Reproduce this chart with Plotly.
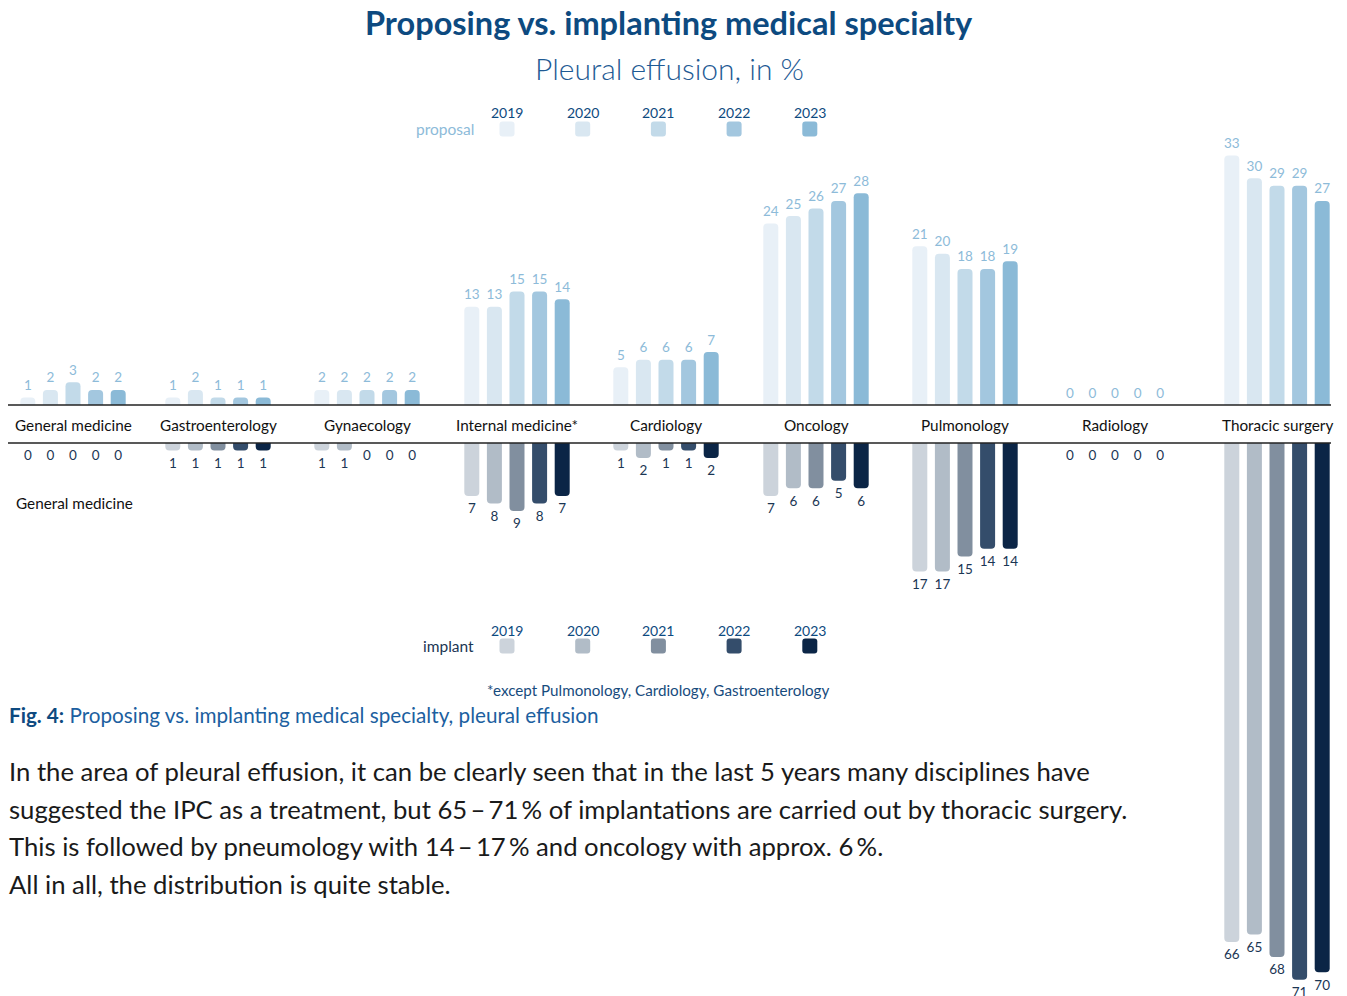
import plotly.graph_objects as go

categories = ["General medicine", "Gastroenterology", "Gynaecology", "Internal medicine*",
              "Cardiology", "Oncology", "Pulmonology", "Radiology", "Thoracic surgery"]
years = ["2019", "2020", "2021", "2022", "2023"]

# share of proposing specialty, in %
proposal_2019 = [1, 1, 2, 13, 5, 24, 21, 0, 33]
proposal_2020 = [2, 2, 2, 13, 6, 25, 20, 0, 30]
proposal_2021 = [3, 1, 2, 15, 6, 26, 18, 0, 29]
proposal_2022 = [2, 1, 2, 15, 6, 27, 18, 0, 29]
proposal_2023 = [2, 1, 2, 14, 7, 28, 19, 0, 27]

# share of implanting specialty, in %
implant_2019 = [0, 1, 1, 7, 1, 7, 17, 0, 66]
implant_2020 = [0, 1, 1, 8, 2, 6, 17, 0, 65]
implant_2021 = [0, 1, 0, 9, 1, 6, 15, 0, 68]
implant_2022 = [0, 1, 0, 8, 1, 5, 14, 0, 71]
implant_2023 = [0, 1, 0, 7, 2, 6, 14, 0, 70]

proposal = [proposal_2019, proposal_2020, proposal_2021, proposal_2022, proposal_2023]
implant = [implant_2019, implant_2020, implant_2021, implant_2022, implant_2023]

proposal_colors = ["#e8f0f7", "#d9e7f1", "#c2dae9", "#a3c7df", "#8bbad7"]
implant_colors = ["#ccd3db", "#b1bcc7", "#818f9f", "#344d6b", "#0b2546"]

W, H = 1347, 996
OX, OY = 8, 8      # page offset of the plot div
FONT = "Lato"
DARK_BLUE = "#0d4a80"
LIGHT_LABEL = "#8dbbd9"
DARK_LABEL = "#1b3654"

group_x = [73, 218, 367, 517, 666, 816, 965, 1115, 1277]   # page-pixel centre of each group
pitch = 22.6
bar_w = 15
unit = 7.56        # px per percentage point
top_base = 405     # page pixels
bot_base = 443


def px(x):
    return (x - OX) / W


def py(y):
    return 1 - (y - OY) / H


fig = go.Figure()

for j, yr in enumerate(years):
    off = (j - 2) * pitch - bar_w / 2
    xs = [g + (j - 2) * pitch for g in group_x]
    fig.add_trace(go.Bar(
        x=group_x, y=proposal[j], width=bar_w, offset=off,
        marker=dict(color=proposal_colors[j], cornerradius=4, line=dict(width=0)),
        showlegend=False, name=yr, xaxis="x", yaxis="y"))
    fig.add_trace(go.Scatter(
        x=xs, y=proposal[j], mode="markers+text", text=proposal[j], textposition="top center",
        marker=dict(size=5, opacity=0),
        textfont=dict(family=FONT, size=13.5, color=LIGHT_LABEL),
        cliponaxis=False, hoverinfo="skip", showlegend=False, xaxis="x", yaxis="y"))
    fig.add_trace(go.Bar(
        x=group_x, y=implant[j], width=bar_w, offset=off,
        marker=dict(color=implant_colors[j], cornerradius=4, line=dict(width=0)),
        showlegend=False, name=yr, xaxis="x2", yaxis="y2"))
    fig.add_trace(go.Scatter(
        x=xs, y=implant[j], mode="markers+text", text=implant[j], textposition="bottom center",
        marker=dict(size=10, opacity=0),
        textfont=dict(family=FONT, size=13.5, color=DARK_LABEL),
        cliponaxis=False, hoverinfo="skip", showlegend=False, xaxis="x2", yaxis="y2"))


def ann(x, y, text, size, color, xanchor="center", weight=None):
    f = dict(family=FONT, size=size, color=color)
    if weight:
        f["weight"] = weight
    fig.add_annotation(x=px(x), y=py(y), xref="paper", yref="paper", text=text,
                       showarrow=False, xanchor=xanchor, yanchor="middle", font=f)


def rounded_square(cx, cy, s, r, color):
    x0, x1 = px(cx - s / 2), px(cx + s / 2)
    y0, y1 = py(cy + s / 2), py(cy - s / 2)
    rx, ry = r / W, r / H
    path = (f"M{x0 + rx},{y0} L{x1 - rx},{y0} Q{x1},{y0} {x1},{y0 + ry} "
            f"L{x1},{y1 - ry} Q{x1},{y1} {x1 - rx},{y1} L{x0 + rx},{y1} "
            f"Q{x0},{y1} {x0},{y1 - ry} L{x0},{y0 + ry} Q{x0},{y0} {x0 + rx},{y0} Z")
    fig.add_shape(type="path", path=path, xref="paper", yref="paper",
                  fillcolor=color, line=dict(width=0))


# baselines
for yb in (top_base, bot_base):
    fig.add_shape(type="line", x0=px(7), x1=px(1331), y0=py(yb), y1=py(yb),
                  xref="paper", yref="paper", line=dict(color="#222222", width=1.5))

# titles
ann(669, 23, "<b>Proposing vs. implanting medical specialty</b>", 32.5, DARK_BLUE)
ann(669, 68, "Pleural effusion, in %", 30, "#1e5a94", weight=300)

# legends
leg_x0, leg_step = 507, 75.7
ann(476, 129, "proposal", 15.5, LIGHT_LABEL, xanchor="right")
ann(476, 646, "implant", 15.5, DARK_LABEL, xanchor="right")
for j, yr in enumerate(years):
    lx = leg_x0 + j * leg_step
    ann(lx, 113, yr, 14, DARK_BLUE)
    ann(lx, 630, yr, 14, DARK_BLUE)
    rounded_square(lx, 129, 15, 3, proposal_colors[j])
    rounded_square(lx, 646, 15, 3, implant_colors[j])

# category labels
for cx, cat in zip(group_x, categories):
    ann(cx, 425, cat, 15.3, "#111111")
ann(74, 503, categories[0], 15.3, "#111111")

# notes
ann(658, 690, "*except Pulmonology, Cardiology, Gastroenterology", 15.2, "#174b7d")
ann(7, 715, f"<b><span style='color:{DARK_BLUE}'>Fig. 4:</span></b> "
            "Proposing vs. implanting medical specialty, pleural effusion",
    20.7, "#1c5fa0", xanchor="left")

para = [
    "In the area of pleural effusion, it can be clearly seen that in the last 5 years many disciplines have",
    "suggested the IPC as a treatment, but 65\u2009\u2013\u200971\u2009% of implantations are carried out by thoracic surgery.",
    "This is followed by pneumology with 14\u2009\u2013\u200917\u2009% and oncology with approx. 6\u2009%.",
    "All in all, the distribution is quite stable.",
]
for i, line in enumerate(para):
    ann(7, 771 + i * 37.7, line, 25.7, "#1a1a1a", xanchor="left")

top_h = top_base - OY
bot_h = bot_base - OY
fig.update_layout(
    width=W, height=H,
    margin=dict(l=0, r=0, t=0, b=0),
    paper_bgcolor="white", plot_bgcolor="rgba(0,0,0,0)",
    barmode="overlay",
    xaxis=dict(domain=[0, 1], range=[OX, W + OX], visible=False, fixedrange=True),
    xaxis2=dict(domain=[0, 1], range=[OX, W + OX], visible=False, anchor="y2", fixedrange=True),
    yaxis=dict(domain=[1 - top_h / H, 1], range=[0, top_h / unit], visible=False),
    yaxis2=dict(domain=[0, 1 - bot_h / H], range=[(H - bot_h) / unit, 0],
                visible=False, anchor="x2"),
)

fig.write_html("out.html")
